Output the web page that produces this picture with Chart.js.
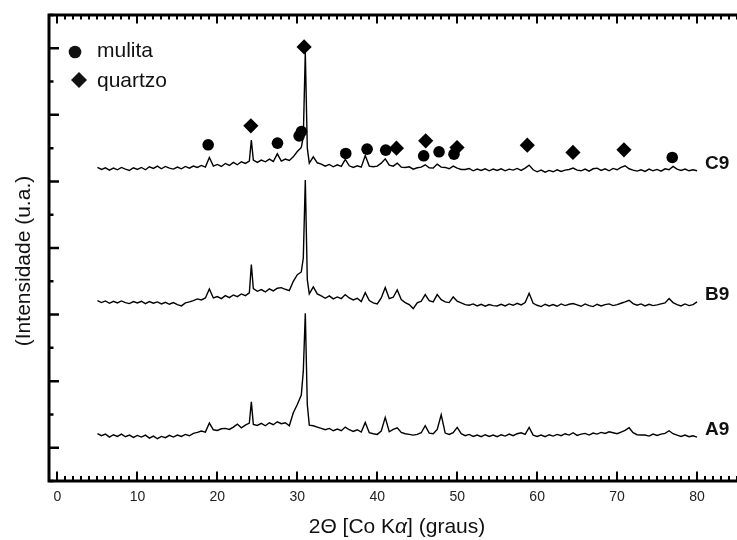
<!DOCTYPE html>
<html><head><meta charset="utf-8">
<script src="https://cdn.jsdelivr.net/npm/chart.js@4.4.1/dist/chart.umd.min.js"></script>
<style>html,body{margin:0;padding:0;background:#fff;}#wrap{width:737px;height:540px;}</style>
</head><body><div id="wrap"><canvas id="c" width="737" height="540"></canvas></div>
<script>
// ---- data ----
const twoTheta = [
 5,5.5,6,6.5,7,7.5,8,8.5,9,9.5,
 10,10.5,11,11.5,12,12.5,13,13.5,14,14.5,
 15,15.5,16,16.5,17,17.5,18,18.5,19,19.5,
 20,20.5,21,21.5,22,22.5,23,23.5,
 24,24.25,24.5,25,25.5,26,26.5,27,27.5,28,28.5,29,29.5,
 30,30.5,30.75,31,31.25,31.5,32,32.5,33,33.5,34,34.5,
 35,35.5,36,36.5,37,37.5,38,38.5,39,39.5,
 40,40.5,41,41.5,42,42.5,43,43.5,44,44.5,
 45,45.5,46,46.5,47,47.5,48,48.5,49,49.5,
 50,50.5,51,51.5,52,52.5,53,53.5,54,54.5,
 55,55.5,56,56.5,57,57.5,58,58.5,59,59.5,
 60,60.5,61,61.5,62,62.5,63,63.5,64,64.5,
 65,65.5,66,66.5,67,67.5,68,68.5,69,69.5,
 70,70.5,71,71.5,72,72.5,73,73.5,74,74.5,
 75,75.5,76,76.5,77,77.5,78,78.5,79,79.5,
 80];
const c9 = [
 8.42,8.36,8.41,8.34,8.40,8.35,8.42,8.37,8.33,8.41,
 8.36,8.42,8.35,8.44,8.39,8.46,8.38,8.45,8.40,8.37,
 8.43,8.38,8.45,8.40,8.46,8.42,8.48,8.43,8.72,8.46,
 8.51,8.45,8.54,8.48,8.57,8.50,8.59,8.54,
 8.61,9.24,8.64,8.57,8.64,8.59,8.67,8.60,8.83,8.61,8.67,8.63,8.74,
 8.90,9.02,9.35,11.88,9.00,8.55,8.74,8.56,8.52,8.46,8.51,8.44,
 8.50,8.45,8.66,8.47,8.42,8.47,8.43,8.78,8.46,8.44,
 8.46,8.55,8.68,8.49,8.46,8.55,8.43,8.42,8.44,8.37,
 8.41,8.43,8.50,8.41,8.40,8.52,8.43,8.42,8.38,8.46,
 8.40,8.36,8.36,8.39,8.32,8.37,8.33,8.38,8.32,8.37,
 8.33,8.38,8.32,8.37,8.34,8.39,8.33,8.40,8.49,8.35,
 8.29,8.34,8.28,8.33,8.29,8.35,8.30,8.34,8.36,8.40,
 8.34,8.32,8.37,8.31,8.38,8.40,8.33,8.38,8.32,8.39,
 8.35,8.42,8.47,8.38,8.34,8.31,8.35,8.30,8.37,8.32,
 8.36,8.31,8.38,8.35,8.45,8.37,8.33,8.37,8.32,8.35,
 8.32];
const b9 = [
 4.42,4.36,4.41,4.34,4.40,4.35,4.41,4.36,4.33,4.39,
 4.35,4.40,4.33,4.39,4.34,4.38,4.32,4.37,4.31,4.36,
 4.30,4.26,4.35,4.38,4.42,4.47,4.44,4.50,4.77,4.50,
 4.54,4.48,4.57,4.51,4.59,4.54,4.62,4.57,
 4.65,5.50,4.78,4.70,4.75,4.68,4.77,4.71,4.79,4.81,4.76,4.72,5.00,
 5.20,5.28,5.70,8.04,5.05,4.62,4.83,4.62,4.56,4.49,4.56,4.47,
 4.53,4.48,4.60,4.50,4.44,4.49,4.39,4.66,4.42,4.35,
 4.32,4.50,4.81,4.48,4.52,4.74,4.45,4.36,4.30,4.18,
 4.35,4.40,4.60,4.42,4.38,4.60,4.45,4.38,4.36,4.53,
 4.40,4.35,4.30,4.28,4.32,4.26,4.31,4.25,4.30,4.27,
 4.26,4.31,4.26,4.32,4.28,4.34,4.29,4.36,4.64,4.34,
 4.28,4.24,4.31,4.26,4.30,4.25,4.32,4.27,4.31,4.33,
 4.29,4.25,4.32,4.27,4.24,4.31,4.26,4.30,4.32,4.27,
 4.30,4.34,4.38,4.43,4.33,4.28,4.32,4.26,4.31,4.27,
 4.29,4.32,4.35,4.48,4.36,4.30,4.26,4.32,4.27,4.30,
 4.38];
const a9 = [
 0.42,0.36,0.41,0.32,0.39,0.34,0.41,0.33,0.38,0.31,
 0.37,0.32,0.38,0.29,0.35,0.27,0.34,0.30,0.37,0.32,
 0.38,0.34,0.40,0.36,0.43,0.46,0.50,0.47,0.74,0.54,
 0.52,0.57,0.58,0.55,0.62,0.71,0.60,0.68,
 0.74,1.38,0.70,0.67,0.73,0.66,0.75,0.69,0.78,0.72,0.75,0.66,1.05,
 1.30,1.58,2.30,4.04,1.30,0.68,0.66,0.62,0.58,0.54,0.58,0.51,
 0.56,0.51,0.62,0.54,0.49,0.54,0.47,0.76,0.45,0.42,
 0.40,0.50,0.91,0.48,0.55,0.60,0.46,0.42,0.40,0.38,
 0.40,0.45,0.66,0.44,0.42,0.55,0.99,0.44,0.40,0.45,
 0.61,0.42,0.36,0.40,0.34,0.38,0.33,0.39,0.34,0.38,
 0.33,0.39,0.35,0.41,0.36,0.42,0.45,0.40,0.61,0.38,
 0.34,0.38,0.33,0.39,0.35,0.40,0.36,0.42,0.38,0.45,
 0.37,0.41,0.43,0.38,0.44,0.41,0.46,0.43,0.48,0.45,
 0.42,0.47,0.52,0.60,0.45,0.39,0.38,0.38,0.35,0.41,
 0.37,0.41,0.43,0.51,0.42,0.38,0.34,0.38,0.33,0.36,
 0.32];
const seriesNames = ['C9','B9','A9'];
const mulitaTheta = [18.85,27.52,30.23,30.52,36.06,38.73,41.06,45.81,47.73,49.6,76.9];
const mulitaLevel = [9.10,9.15,9.37,9.50,8.84,8.97,8.94,8.77,8.89,8.82,8.72];
const quartzoTheta = [24.19,30.85,42.4,46.06,49.98,58.77,64.48,70.86];
const quartzoLevel = [9.67,12.04,9.0,9.22,9.02,9.09,8.87,8.95];
const legendNames = ['mulita','quartzo'];
const xTickValues = [0,10,20,30,40,50,60,70,80];
const xTitleParts = ['2\u0398 [Co K','\u03b1','] (graus)'];
const yTitle = '(Intensidade (u.a.)';

// ---- build ----
const FONT = '"Liberation Sans", Arial, Helvetica, sans-serif';
const toXY = (xs, ys) => xs.map((v, i) => ({x: v, y: ys[i]}));
const spectra = [c9, b9, a9].map((vals, i) => ({
  label: seriesNames[i], data: toXY(twoTheta, vals), showLine: true,
  borderColor: '#000', borderWidth: 1.4, pointRadius: 0, tension: 0, order: 2
}));
const markers = [
  {label: legendNames[0], data: toXY(mulitaTheta, mulitaLevel), pointStyle: 'circle', pointRadius: 5.8,
   backgroundColor: '#000', borderColor: '#000', borderWidth: 0, showLine: false, order: 1},
  {label: legendNames[1], data: toXY(quartzoTheta, quartzoLevel), pointStyle: 'rectRot', pointRadius: 7.6,
   backgroundColor: '#000', borderColor: '#000', borderWidth: 0, showLine: false, order: 1}
];

const framePlugin = {
  id: 'frame',
  afterDraw(chart) {
    const {ctx, chartArea: ca, scales: {x, y}} = chart;
    ctx.save();
    ctx.strokeStyle = '#000';
    ctx.lineWidth = 3;
    ctx.beginPath();
    ctx.moveTo(ca.left, ca.top - 1.5); ctx.lineTo(ca.left, ca.bottom + 1.5);
    ctx.moveTo(ca.left - 1.5, ca.top); ctx.lineTo(chart.width, ca.top);
    ctx.moveTo(ca.left - 1.5, ca.bottom); ctx.lineTo(chart.width, ca.bottom);
    ctx.stroke();
    ctx.lineWidth = 2;
    ctx.beginPath();
    for (let v = 0; v <= x.max; v += 1) {
      const px = Math.round(x.getPixelForValue(v));
      const major = v % 10 === 0;
      ctx.moveTo(px, ca.bottom); ctx.lineTo(px, ca.bottom - (major ? 9.5 : 5));
      ctx.moveTo(px, ca.top); ctx.lineTo(px, ca.top + (major ? 8.5 : 4.5));
    }
    ctx.stroke();
    ctx.lineWidth = 2.5;
    ctx.beginPath();
    for (let v = Math.ceil(y.min); v <= y.max; v += 1) {
      const py = y.getPixelForValue(v);
      const major = v >= 0 && v % 2 === 0;
      ctx.moveTo(ca.left, py); ctx.lineTo(ca.left + (major ? 10 : 4.5), py);
    }
    ctx.stroke();

    ctx.fillStyle = '#111';
    ctx.font = 'bold 19px ' + FONT;
    ctx.textAlign = 'left'; ctx.textBaseline = 'middle';
    spectra.forEach((ds) => {
      const last = ds.data[ds.data.length - 1];
      ctx.fillText(ds.label, x.getPixelForValue(last.x + 1.0), y.getPixelForValue(last.y + 0.22));
    });
    const lx = ca.left, ly = ca.top;
    ctx.beginPath(); ctx.arc(lx + 26, ly + 37, 6.3, 0, Math.PI * 2); ctx.fill();
    const dx = lx + 30, dy = ly + 65, dr = 8;
    ctx.beginPath(); ctx.moveTo(dx, dy - dr); ctx.lineTo(dx + dr, dy); ctx.lineTo(dx, dy + dr); ctx.lineTo(dx - dr, dy); ctx.closePath(); ctx.fill();
    ctx.font = '21px ' + FONT;
    ctx.textBaseline = 'alphabetic';
    ctx.fillText(legendNames[0], lx + 48, ly + 42);
    ctx.fillText(legendNames[1], lx + 48, ly + 72);
    const fN = '21px ' + FONT, fI = 'italic 21px ' + FONT;
    ctx.font = fN; const w0 = ctx.measureText(xTitleParts[0]).width, w2 = ctx.measureText(xTitleParts[2]).width;
    ctx.font = fI; const w1 = ctx.measureText(xTitleParts[1]).width;
    let tx = (ca.left + ca.right) / 2 + 4 - (w0 + w1 + w2) / 2;
    const ty = 533;
    ctx.font = fN; ctx.fillText(xTitleParts[0], tx, ty); tx += w0;
    ctx.font = fI; ctx.fillText(xTitleParts[1], tx, ty); tx += w1;
    ctx.font = fN; ctx.fillText(xTitleParts[2], tx, ty);
    ctx.save();
    ctx.translate(24, (ca.top + ca.bottom) / 2 + 13);
    ctx.rotate(-Math.PI / 2);
    ctx.textAlign = 'center'; ctx.textBaseline = 'middle';
    ctx.font = '21px ' + FONT;
    ctx.fillText(yTitle, 0, 0);
    ctx.restore();
    ctx.restore();
  }
};

new Chart(document.getElementById('c'), {
  type: 'scatter',
  data: {datasets: [...spectra, ...markers]},
  options: {
    responsive: false, animation: false, devicePixelRatio: 1,
    layout: {autoPadding: false, padding: {top: 15, right: 0, left: 0, bottom: 0}},
    plugins: {legend: {display: false}, tooltip: {enabled: false}, title: {display: false}},
    scales: {
      x: {
        type: 'linear', min: -1.06, max: 85,
        grid: {display: false, drawTicks: false}, border: {display: false},
        afterBuildTicks: (s) => { s.ticks = xTickValues.map(v => ({value: v})); },
        afterFit: (s) => { s.height = 59; s.paddingLeft = 0; s.paddingRight = 0; },
        ticks: {color: '#222', font: {family: FONT, size: 14}, padding: 8, maxRotation: 0, autoSkip: false}
      },
      y: {
        type: 'linear', min: -1, max: 13,
        grid: {display: false, drawTicks: false}, border: {display: false},
        ticks: {display: false},
        afterFit: (s) => { s.width = 49; }
      }
    }
  },
  plugins: [framePlugin]
});
</script></body></html>
